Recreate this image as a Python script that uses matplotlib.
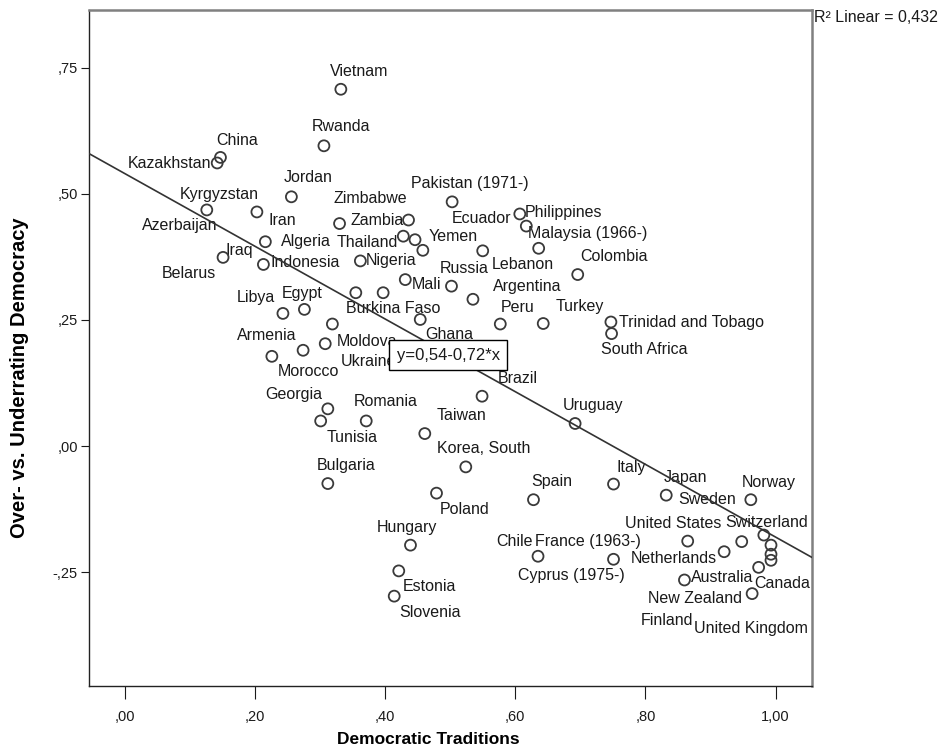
import numpy as np
import matplotlib.pyplot as plt

plt.rcParams['font.family'] = ['Liberation Sans', 'DejaVu Sans']

countries = [
    "China", "Kazakhstan", "Kyrgyzstan", "Iran", "Jordan", "Algeria", "Iraq",
    "Indonesia", "Azerbaijan", "Belarus", "Vietnam", "Rwanda", "Zambia",
    "Zimbabwe", "Nigeria", "Pakistan (1971-)", "Ecuador", "Philippines",
    "Malaysia (1966-)", "Thailand", "Yemen", "Lebanon", "Russia", "Argentina",
    "Mali", "Colombia", "Burkina Faso", "Ghana", "Ukraine", "Moldova", "Peru",
    "Turkey", "Trinidad and Tobago", "South Africa", "Libya", "Egypt",
    "Armenia", "Morocco", "Brazil", "Georgia", "Tunisia", "Romania", "Taiwan",
    "Uruguay", "Korea, South", "Bulgaria", "Poland", "Spain", "Italy",
    "Hungary", "Estonia", "Slovenia", "Chile", "Cyprus (1975-)",
    "France (1963-)", "Japan", "Sweden", "Norway", "United States",
    "Switzerland", "Netherlands", "Australia", "Canada", "New Zealand",
    "Finland", "United Kingdom",
]

democratic_traditions = [
    0.147, 0.142, 0.126, 0.203, 0.256, 0.216, 0.151,
    0.213, 0.458, 0.355, 0.332, 0.306, 0.330,
    0.436, 0.362, 0.503, 0.607, 0.617,
    0.636, 0.428, 0.446, 0.550, 0.502, 0.535,
    0.431, 0.696, 0.397, 0.454, 0.319, 0.308, 0.577,
    0.643, 0.747, 0.748, 0.243, 0.276,
    0.226, 0.274, 0.549, 0.312, 0.301, 0.371, 0.461,
    0.692, 0.524, 0.312, 0.479, 0.628, 0.751,
    0.439, 0.421, 0.414, 0.635, 0.751,
    0.993, 0.832, 0.948, 0.962, 0.865,
    0.982, 0.921, 0.860, 0.974, 0.964,
    0.993, 0.993,
]

over_under = [
    0.572, 0.561, 0.468, 0.464, 0.494, 0.405, 0.374,
    0.360, 0.388, 0.304, 0.707, 0.595, 0.441,
    0.448, 0.367, 0.484, 0.460, 0.436,
    0.392, 0.416, 0.409, 0.387, 0.317, 0.291,
    0.330, 0.340, 0.304, 0.251, 0.242, 0.203, 0.242,
    0.243, 0.246, 0.223, 0.263, 0.271,
    0.178, 0.190, 0.099, 0.074, 0.050, 0.050, 0.025,
    0.045, -0.041, -0.074, -0.093, -0.106, -0.075,
    -0.196, -0.247, -0.297, -0.218, -0.224,
    -0.226, -0.097, -0.189, -0.106, -0.188,
    -0.176, -0.209, -0.265, -0.240, -0.292,
    -0.196, -0.214,
]

fit_intercept = 0.54
fit_slope = -0.72
fit_label = "y=0,54-0,72*x"
r2_label = "R² Linear = 0,432"

x_ticks = [0.0, 0.2, 0.4, 0.6, 0.8, 1.0]
x_tick_labels = [",00", ",20", ",40", ",60", ",80", "1,00"]
y_ticks = [-0.25, 0.0, 0.25, 0.5, 0.75]
y_tick_labels = ["-,25", ",00", ",25", ",50", ",75"]

# label position relative to its point, in pixels (right, down)
label_offsets = {
    "China": (17, -17), "Kazakhstan": (-48, 1), "Kyrgyzstan": (12, -15),
    "Iran": (25, 9), "Jordan": (17, -19), "Algeria": (41, 0), "Iraq": (16, -7),
    "Indonesia": (42, -2), "Azerbaijan": (-243, -25), "Belarus": (-167, -19),
    "Vietnam": (18, -18), "Rwanda": (17, -19), "Zambia": (38, -3),
    "Zimbabwe": (-38, -22), "Nigeria": (31, 0), "Pakistan (1971-)": (18, -18),
    "Ecuador": (-38, 5), "Philippines": (37, -14), "Malaysia (1966-)": (49, -15),
    "Thailand": (-36, 6), "Yemen": (38, -3), "Lebanon": (40, 14),
    "Russia": (13, -18), "Argentina": (54, -13), "Mali": (21, 5),
    "Colombia": (36, -18), "Burkina Faso": (10, 16), "Ghana": (29, 15),
    "Ukraine": (36, 37), "Moldova": (42, -2), "Peru": (17, -17),
    "Turkey": (37, -17), "Trinidad and Tobago": (81, 0), "South Africa": (33, 16),
    "Libya": (-27, -16), "Egypt": (-2, -16), "Armenia": (-5, -21),
    "Morocco": (5, 21), "Brazil": (36, -18), "Georgia": (-34, -14),
    "Tunisia": (31, 17), "Romania": (19, -19), "Taiwan": (37, -18),
    "Uruguay": (18, -18), "Korea, South": (18, -18), "Bulgaria": (18, -18),
    "Poland": (28, 16), "Spain": (18, -18), "Italy": (18, -17),
    "Hungary": (-4, -18), "Estonia": (31, 16), "Slovenia": (36, 16),
    "Chile": (-24, -15), "Cyprus (1975-)": (-42, 16), "France (1963-)": (-183, -19),
    "Japan": (19, -18), "Sweden": (-35, -42), "Norway": (18, -17),
    "United States": (-15, -18), "Switzerland": (3, -13), "Netherlands": (-50, 7),
    "Australia": (38, -2), "Canada": (24, 16), "New Zealand": (-57, 5),
    "Finland": (-104, 75), "United Kingdom": (-20, 74),
}

fig = plt.figure(figsize=(9.44, 7.51), dpi=100)
ax = fig.add_axes([89 / 944, 1 - 686 / 751, 723 / 944, 676 / 751])
ax.set_xlim(-0.055, 1.056)
ax.set_ylim(-0.475, 0.864)

xs = np.array(ax.get_xlim())
ax.plot(xs, fit_intercept + fit_slope * xs, color='#333333', lw=1.2, zorder=3)

ax.scatter(democratic_traditions, over_under, s=62, facecolors='none',
           edgecolors='#3a3a3a', linewidths=1.3, zorder=2)

for name, x, y in zip(countries, democratic_traditions, over_under):
    dx, dy = label_offsets[name]
    ax.annotate(name, (x, y), xytext=(dx, -dy), textcoords='offset pixels',
                ha='center', va='center', fontsize=11.5, color='#1a1a1a',
                zorder=1.5)

ax.text(0.497, 0.4896, fit_label, transform=ax.transAxes, ha='center',
        va='center', fontsize=12, color='#1a1a1a', zorder=5,
        bbox=dict(boxstyle='square,pad=0.45', fc='white', ec='black', lw=1))

fig.text(814 / 944, 1 - 18 / 751, r2_label, ha='left', va='center',
         fontsize=11.5, color='#1a1a1a')

ax.set_xticks(x_ticks)
ax.set_xticklabels(x_tick_labels)
ax.set_yticks(y_ticks)
ax.set_yticklabels(y_tick_labels)
ax.tick_params(axis='both', direction='out', labelsize=10.5, colors='#1a1a1a')
ax.tick_params(axis='x', length=9, pad=8)
ax.tick_params(axis='y', length=6, pad=2)

for side in ['left', 'bottom']:
    ax.spines[side].set_color('#222222')
    ax.spines[side].set_linewidth(1.0)
for side in ['top', 'right']:
    ax.spines[side].set_color('#808080')
    ax.spines[side].set_linewidth(1.8)

ax.set_xlabel("Democratic Traditions", fontsize=12.5, fontweight='bold',
              va='center')
ax.set_ylabel("Over- vs. Underrating Democracy", fontsize=14.5,
              fontweight='bold', va='center')
ax.xaxis.set_label_coords((428 - 89) / 723, -(739 - 686) / 676)
ax.yaxis.set_label_coords(-(89 - 20) / 723, (686 - 378) / 676)

fig.savefig("out.png", dpi=100, facecolor='white')
